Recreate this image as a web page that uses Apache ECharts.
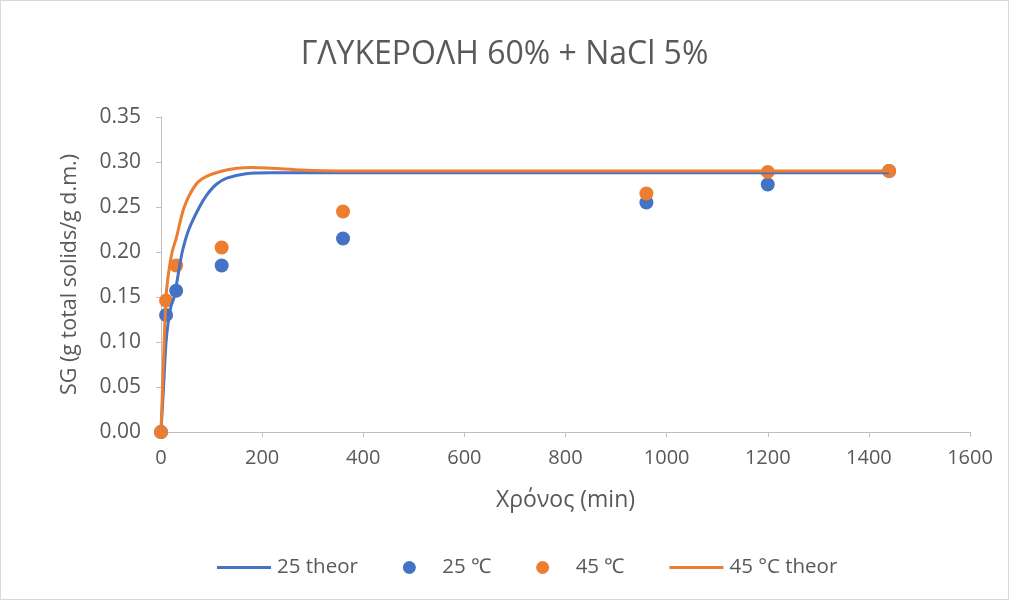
<!DOCTYPE html>
<html>
<head>
<meta charset="utf-8">
<script src="https://cdn.jsdelivr.net/npm/echarts@6/dist/echarts.min.js"></script>
<style>
html,body{margin:0;padding:0;background:#fff;}
#c{width:1007px;height:598px;border:1px solid #d9d9d9;}
</style>
</head>
<body>
<div id="c"></div>
<script>
const titleText = 'ΓΛΥΚΕΡΟΛΗ 60% + NaCl 5%';
const xName = 'Χρόνος (min)';
const yName = 'SG (g total solids/g d.m.)';
const seriesNames = ['25 theor', '25 ℃', '45 ℃', '45 °C theor'];

const times = [0, 10, 30, 120, 360, 960, 1200, 1440];
const obs25 = [0, 0.130, 0.157, 0.185, 0.215, 0.255, 0.275, 0.290];
const obs45 = [0, 0.146, 0.185, 0.205, 0.245, 0.265, 0.289, 0.290];

const theor25T = [0, 5, 10, 15, 20, 26, 34, 42, 55, 76, 90, 109, 130, 168, 220, 300, 600, 1000, 1440];
const theor25V = [0, 0.05, 0.10, 0.125, 0.14, 0.15, 0.175, 0.20, 0.225, 0.25, 0.263, 0.275, 0.282, 0.287, 0.288, 0.288, 0.288, 0.288, 0.288];
const theor45T = [0, 5, 10, 15, 22, 30, 46, 69, 90, 121, 150, 180, 220, 280, 350, 600, 1000, 1440];
const theor45V = [0, 0.08, 0.15, 0.177, 0.20, 0.215, 0.25, 0.275, 0.284, 0.290, 0.293, 0.294, 0.293, 0.291, 0.290, 0.290, 0.290, 0.290];

const zip = (a, b) => a.map((v, i) => [v, b[i]]);
const BLUE = '#4472C4', ORANGE = '#ED7D31', TXT = '#595959', AX = '#bfbfbf';
const FONT = 'Open Sans';
const LINE_ICON = 'path://M0,0 L54,0 L54,3 L0,3 Z';

const chart = echarts.init(document.getElementById('c'));
chart.setOption({
  animation: false,
  textStyle: {fontFamily: FONT},
  title: {
    text: titleText, left: 'center', top: 33,
    textStyle: {fontSize: 32, fontWeight: 'normal', color: TXT, fontFamily: FONT}
  },
  grid: {left: 160, right: 38, top: 116, bottom: 167, containLabel: false},
  xAxis: {
    type: 'value', min: 0, max: 1600, interval: 200,
    name: xName, nameLocation: 'middle', nameGap: 57,
    nameTextStyle: {fontSize: 23, color: TXT, fontFamily: FONT},
    axisLine: {show: true, lineStyle: {color: AX, width: 1}},
    axisTick: {show: true, length: 5, lineStyle: {color: AX}},
    axisLabel: {fontSize: 20, color: TXT, margin: 16, fontFamily: FONT, formatter: v => String(v)},
    splitLine: {show: false}
  },
  yAxis: {
    type: 'value', min: 0, max: 0.35, interval: 0.05,
    name: yName, nameLocation: 'middle', nameGap: 80, nameRotate: 90,
    nameTextStyle: {fontSize: 21.5, color: TXT, fontFamily: FONT},
    axisLine: {show: true, lineStyle: {color: AX, width: 1}},
    axisTick: {show: true, length: 5, lineStyle: {color: AX}},
    axisLabel: {fontSize: 21, color: TXT, margin: 20, fontFamily: FONT, formatter: v => v.toFixed(2)},
    splitLine: {show: false}
  },
  legend: {
    bottom: 16, left: 211, itemGap: 45, itemWidth: 54, itemHeight: 13,
    textStyle: {fontSize: 20.5, color: TXT, fontFamily: FONT, padding: [0, 0, 0, 1]},
    data: [
      {name: seriesNames[0], icon: LINE_ICON, itemStyle: {color: BLUE}},
      {name: seriesNames[1], icon: 'circle'},
      {name: seriesNames[2], icon: 'circle'},
      {name: seriesNames[3], icon: LINE_ICON, itemStyle: {color: ORANGE}}
    ]
  },
  series: [
    {name: seriesNames[0], type: 'line', data: zip(theor25T, theor25V), smooth: 0.3,
     symbol: 'none', lineStyle: {color: BLUE, width: 3}, itemStyle: {color: BLUE}},
    {name: seriesNames[1], type: 'scatter', data: zip(times, obs25), symbolSize: 14,
     itemStyle: {color: BLUE, opacity: 1}},
    {name: seriesNames[2], type: 'scatter', data: zip(times, obs45), symbolSize: 14,
     itemStyle: {color: ORANGE, opacity: 1}},
    {name: seriesNames[3], type: 'line', data: zip(theor45T, theor45V), smooth: 0.3,
     symbol: 'none', lineStyle: {color: ORANGE, width: 3}, itemStyle: {color: ORANGE}}
  ]
});
</script>
</body>
</html>
